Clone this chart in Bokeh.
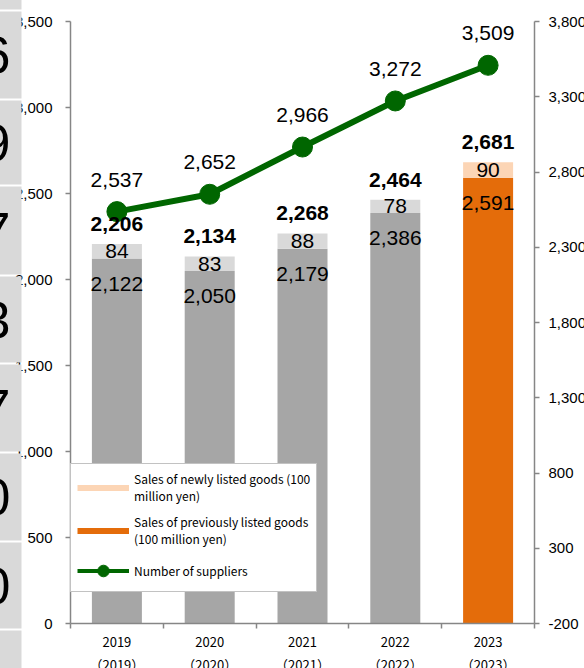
from bokeh.plotting import figure
from bokeh.models import (LinearAxis, Range1d, FixedTicker, Legend, LegendItem,
                          ColumnDataSource, NumeralTickFormatter)
from bokeh.core.properties import value
from bokeh.embed import file_html
from bokeh.resources import INLINE
import numpy as np

# ---------------- data ----------------
years = ["2019", "2020", "2021", "2022", "2023"]
prev_sales = [2122, 2050, 2179, 2386, 2591]      # previously listed goods (100 million yen)
new_sales = [84, 83, 88, 78, 90]                 # newly listed goods (100 million yen)
total_sales = [2206, 2134, 2268, 2464, 2681]     # totals as labelled
suppliers = [2537, 2652, 2966, 3272, 3509]       # number of suppliers
left_ticks = [0, 500, 1000, 1500, 2000, 2500, 3000, 3500]
right_ticks = [-200, 300, 800, 1300, 1800, 2300, 2800, 3300, 3800]
side_digits = ["6", "9", "7", "3", "7", "0", "0"]   # cut-off neighbouring panel
highlight_year = "2023"

# ---------------- layout constants (reference pixel geometry) ----------------
W, H = 584, 668
OX, OY = 0, 0
AX_L, AX_R, AX_T, AX_B = 70, 534, 21, 623
n = len(years)
cw = (AX_R - AX_L) / n
L_MIN, L_MAX = left_ticks[0], left_ticks[-1]
R_MIN, R_MAX = right_ticks[0], right_ticks[-1]
ky = (AX_B - AX_T) / (L_MAX - L_MIN)
ky2 = (AX_B - AX_T) / (R_MAX - R_MIN)

def px_x(px):
    return (px - AX_L) / cw

def px_y(py):
    return (AX_B - py) / ky

GRAY_PREV, GRAY_NEW = "#a6a6a6", "#d9d9d9"
ORANGE_PREV, ORANGE_NEW = "#e46c0a", "#fcd5b5"
GREEN = "#006600"
AXC = "#868686"
NUM_FONT_S = "Liberation Sans"
JP_FONT_S = "Noto Sans CJK JP"
NUM_FONT = value(NUM_FONT_S)

p = figure(width=W, height=H,
           x_range=Range1d(px_x(OX), px_x(OX + W)),
           y_range=Range1d(px_y(OY + H), px_y(OY)),
           output_backend="svg", toolbar_location=None,
           x_axis_location=None, y_axis_location=None,
           min_border=0, title=None, outline_line_color=None,
           background_fill_color="white", border_fill_color="white")
p.extra_y_ranges = {"right": Range1d(R_MIN - (OY + H - AX_B) / ky2,
                                     R_MAX + (AX_T - OY) / ky2)}
p.grid.grid_line_color = None

xs = np.arange(n) + 0.5
is_hi = [y == highlight_year for y in years]
src = ColumnDataSource(dict(
    x=xs,
    prev=prev_sales,
    stack_top=np.array(prev_sales) + np.array(new_sales),
    new_mid=np.array(prev_sales) + np.array(new_sales) / 2,
    total=total_sales,
    sup=suppliers,
    prev_color=[ORANGE_PREV if h else GRAY_PREV for h in is_hi],
    new_color=[ORANGE_NEW if h else GRAY_NEW for h in is_hi],
    prev_lbl=[f"{v:,}" for v in prev_sales],
    new_lbl=[f"{v:,}" for v in new_sales],
    total_lbl=[f"{v:,}" for v in total_sales],
    sup_lbl=[f"{v:,}" for v in suppliers],
))

bw = 50 / cw
p.vbar(x="x", width=bw, bottom=0, top="prev", fill_color="prev_color",
       line_color=None, source=src)
p.vbar(x="x", width=bw, bottom="prev", top="stack_top", fill_color="new_color",
       line_color=None, source=src)

p.line("x", "sup", y_range_name="right", line_color=GREEN, line_width=6, source=src)
p.scatter("x", "sup", y_range_name="right", size=20, fill_color=GREEN,
          line_color=GREEN, source=src)

common = dict(text_align="center", text_baseline="middle", text_font=NUM_FONT,
              text_font_size="21px", text_color="black", source=src)
p.text("x", "total", text="total_lbl", y_offset=-20, text_font_style="bold", **common)
p.text("x", "new_mid", text="new_lbl", **common)
p.text("x", "prev", text="prev_lbl", y_offset=25, **common)
p.text("x", "sup", text="sup_lbl", y_offset=-32, y_range_name="right", **common)

# ---------------- axes ----------------
xaxis = LinearAxis(fixed_location=0, bounds=(0, n),
                   ticker=FixedTicker(ticks=list(xs), minor_ticks=list(range(n + 1))),
                   major_label_overrides={float(c): f"{y}\n（{y}）" for c, y in zip(xs, years)},
                   major_tick_out=0, major_tick_in=0, minor_tick_out=5, minor_tick_in=0,
                   axis_line_color=AXC, axis_line_width=1.5,
                   minor_tick_line_color=AXC, minor_tick_line_width=1.5,
                   major_label_standoff=3, major_label_text_font=JP_FONT_S,
                   major_label_text_font_size="13px", major_label_text_color="black",
                   major_label_text_line_height=1.25)
p.add_layout(xaxis, "below")

yl = LinearAxis(fixed_location=0, bounds=(L_MIN, L_MAX),
                ticker=FixedTicker(ticks=left_ticks),
                formatter=NumeralTickFormatter(format="0,0"),
                major_tick_out=5, major_tick_in=0, major_label_standoff=13,
                axis_line_color=AXC, axis_line_width=1.5,
                major_tick_line_color=AXC, major_tick_line_width=1.5,
                major_label_text_font=NUM_FONT_S, major_label_text_font_size="15px",
                major_label_text_color="black")
p.add_layout(yl, "left")

yr = LinearAxis(y_range_name="right", fixed_location=n, bounds=(R_MIN, R_MAX),
                ticker=FixedTicker(ticks=right_ticks),
                formatter=NumeralTickFormatter(format="0,0"),
                major_tick_out=5, major_tick_in=0, major_label_standoff=9,
                axis_line_color=AXC, axis_line_width=1.5,
                major_tick_line_color=AXC, major_tick_line_width=1.5,
                major_label_text_font=NUM_FONT_S, major_label_text_font_size="15px",
                major_label_text_color="black")
p.add_layout(yr, "right")

# ---------------- cut-off neighbouring panel on the left ----------------
seps = [10, 99, 185, 275, 363, 452, 541, 629]
tops = [OY - 10] + [s + 1 for s in seps]
bots = [s - 1 for s in seps] + [OY + H + 10]
p.quad(left=px_x(OX - 10), right=px_x(21), top=[px_y(t) for t in tops],
       bottom=[px_y(b) for b in bots], fill_color="#d9d9d9", line_color=None,
       level="overlay")
centers = [px_y((seps[i] + seps[i + 1]) / 2) for i in range(len(side_digits))]
p.text(x=[px_x(10)] * len(side_digits), y=centers, text=side_digits,
       text_align="right", text_baseline="middle", text_font=NUM_FONT,
       text_font_size="52px", text_color="black", level="overlay")

# ---------------- legend (proxy glyphs, not drawn in the plot area) ----------------
nan1 = [np.nan]
r_new = p.line(nan1, nan1, line_color=ORANGE_NEW, line_width=6)
r_prev = p.line(nan1, nan1, line_color=ORANGE_PREV, line_width=6)
r_sl = p.line(nan1, nan1, line_color=GREEN, line_width=4)
r_sm = p.scatter(nan1, nan1, size=11, fill_color=GREEN, line_color=GREEN)
legend = Legend(items=[
    LegendItem(label="Sales of newly listed goods (100\nmillion yen)", renderers=[r_new]),
    LegendItem(label="Sales of previously listed goods\n(100 million yen)", renderers=[r_prev]),
    LegendItem(label="Number of suppliers", renderers=[r_sl, r_sm]),
], location=(AX_L - OX, OY + H - 592), orientation="vertical",
   border_line_color=AXC, border_line_width=1.5,
   background_fill_color="white", background_fill_alpha=1.0,
   padding=6, margin=0, spacing=9, glyph_width=52, glyph_height=29,
   label_standoff=5, label_text_font=JP_FONT_S, label_text_font_size="12px",
   label_text_line_height=1.2, label_text_color="black")
p.add_layout(legend)

open("out.html", "w").write(file_html(p, INLINE))
